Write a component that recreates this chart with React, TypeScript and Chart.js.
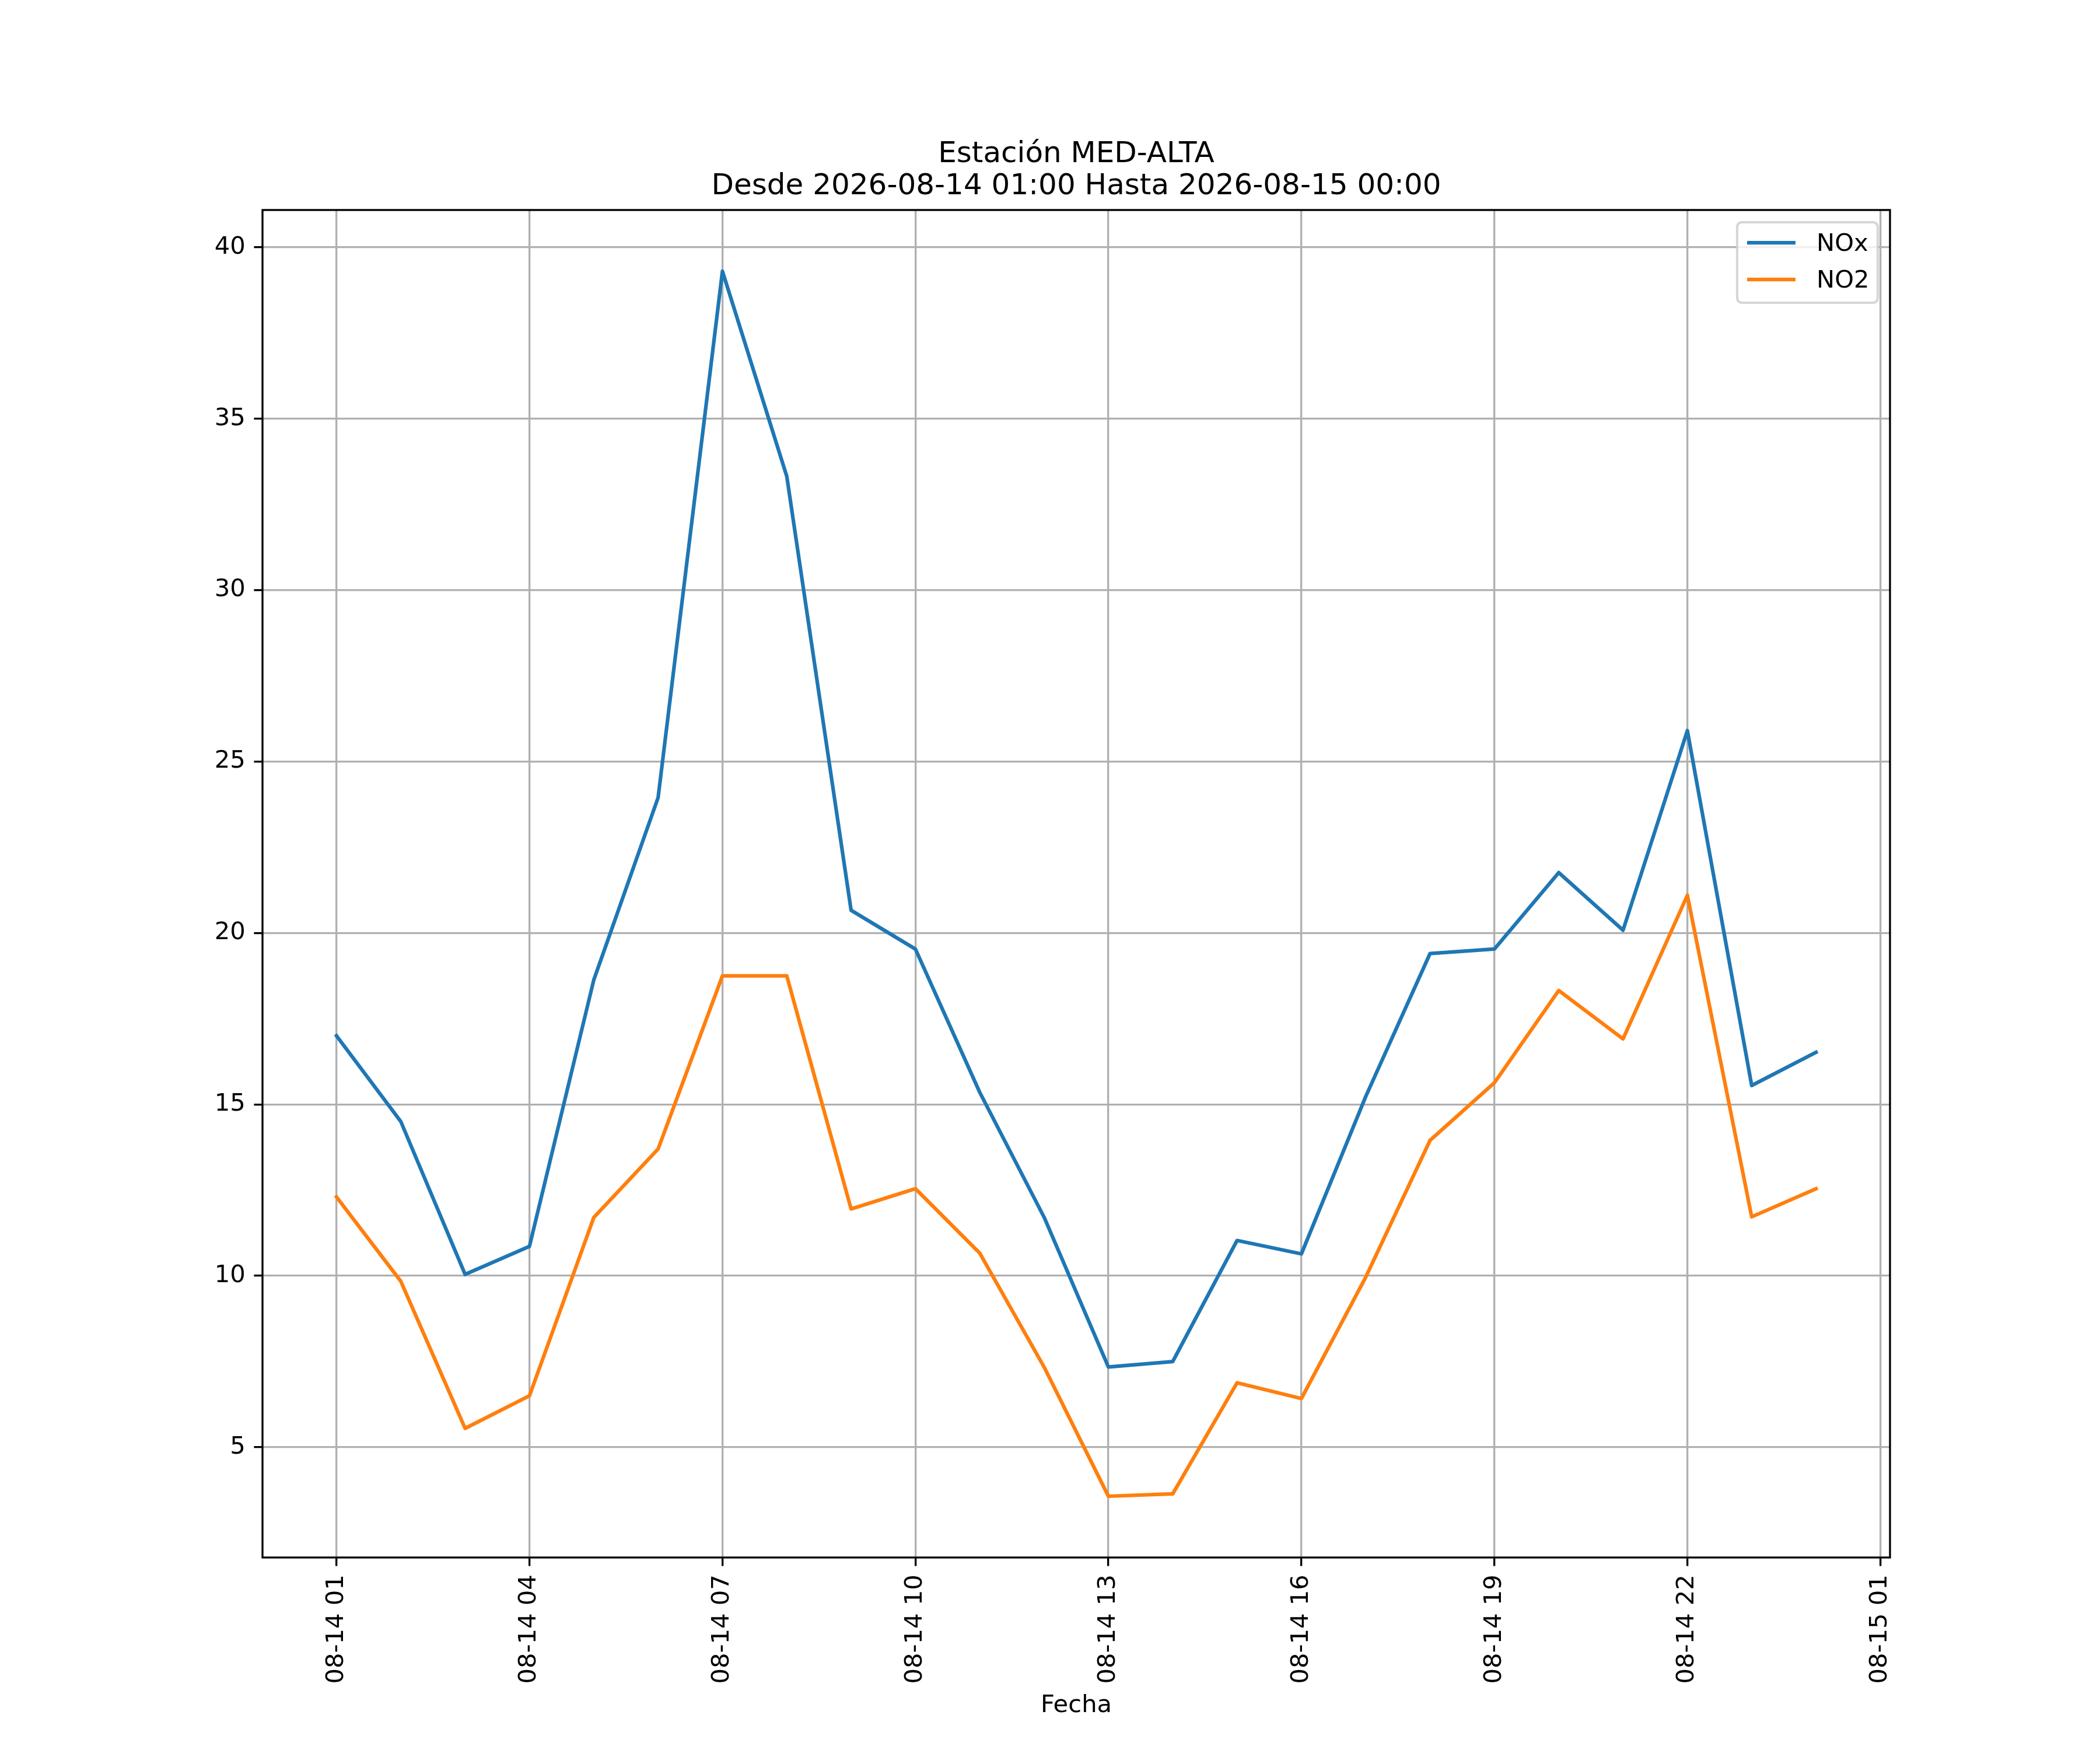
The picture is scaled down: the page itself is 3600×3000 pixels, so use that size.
import React, { useEffect, useRef } from 'react';
import { Chart, registerables } from 'chart.js';

Chart.register(...registerables);

// hourly readings, 2026-08-14 01:00 .. 2026-08-15 00:00
const times = [
  '2026-08-14 01:00', '2026-08-14 02:00', '2026-08-14 03:00', '2026-08-14 04:00',
  '2026-08-14 05:00', '2026-08-14 06:00', '2026-08-14 07:00', '2026-08-14 08:00',
  '2026-08-14 09:00', '2026-08-14 10:00', '2026-08-14 11:00', '2026-08-14 12:00',
  '2026-08-14 13:00', '2026-08-14 14:00', '2026-08-14 15:00', '2026-08-14 16:00',
  '2026-08-14 17:00', '2026-08-14 18:00', '2026-08-14 19:00', '2026-08-14 20:00',
  '2026-08-14 21:00', '2026-08-14 22:00', '2026-08-14 23:00', '2026-08-15 00:00',
];
const nox = [
  17.0, 14.5, 10.04, 10.86, 18.63, 23.95, 39.3, 33.32, 20.66, 19.53, 15.35, 11.71,
  7.34, 7.5, 11.03, 10.64, 15.23, 19.4, 19.53, 21.76, 20.08, 25.9, 15.55, 16.52,
];
const no2 = [
  12.3, 9.84, 5.55, 6.5, 11.7, 13.7, 18.75, 18.75, 11.95, 12.54, 10.66, 7.34,
  3.57, 3.64, 6.88, 6.42, 9.96, 13.95, 15.63, 18.32, 16.91, 21.1, 11.72, 12.54,
];
const seriesNames = ['NOx', 'NO2'];
const seriesColors = ['#1f77b4', '#ff7f0e'];

const xTickLabels = ['08-14 01', '08-14 04', '08-14 07', '08-14 10', '08-14 13', '08-14 16', '08-14 19', '08-14 22', '08-15 01'];
const xTickHours = [1, 4, 7, 10, 13, 16, 19, 22, 25];
const yTicks = [5, 10, 15, 20, 25, 30, 35, 40];

const titleLines = ['Estación MED-ALTA', 'Desde 2026-08-14 01:00 Hasta 2026-08-15 00:00'];
const xTitle = 'Fecha';

const FONT = 'DejaVu Sans';
const FS = 41.67; // 10pt @ 300dpi

// hours since 2026-08-14 00:00
const base = Date.parse('2026-08-14T00:00:00Z');
const hours = times.map((t) => (Date.parse(t.replace(' ', 'T') + ':00Z') - base) / 3600000);

// matplotlib-like 5% margins
const margin = (lo: number, hi: number) => [lo - (hi - lo) * 0.05, hi + (hi - lo) * 0.05];
const [xMin, xMax] = margin(Math.min(...hours), Math.max(...hours));
const allY = [...nox, ...no2];
const [yMin, yMax] = margin(Math.min(...allY), Math.max(...allY));

const framePlugin = {
  id: 'frame',
  afterDatasetsDraw(chart: any) {
    const { ctx, chartArea: a } = chart;
    ctx.save();
    ctx.strokeStyle = '#000';
    ctx.lineWidth = 3.33;
    ctx.lineJoin = 'miter';
    ctx.strokeRect(a.left, a.top, a.right - a.left, a.bottom - a.top);
    ctx.restore();
  },
};

const legendPlugin = {
  id: 'mplLegend',
  afterDraw(chart: any) {
    const { ctx, chartArea: a } = chart;
    const w = 241;
    const h = 138;
    const x = a.right - 21 - w;
    const y = a.top + 21;
    const r = 8;
    ctx.save();
    ctx.beginPath();
    ctx.roundRect(x, y, w, h, r);
    ctx.fillStyle = 'rgba(255,255,255,0.8)';
    ctx.fill();
    ctx.lineWidth = 4.17;
    ctx.strokeStyle = 'rgba(204,204,204,0.8)';
    ctx.stroke();
    chart.data.datasets.forEach((ds: any, i: number) => {
      const ly = y + 35 + i * 63;
      ctx.beginPath();
      ctx.moveTo(x + 17, ly);
      ctx.lineTo(x + 100, ly);
      ctx.strokeStyle = ds.borderColor;
      ctx.lineWidth = 6.25;
      ctx.lineCap = 'butt';
      ctx.stroke();
      ctx.fillStyle = '#000';
      ctx.font = `${FS}px "${FONT}"`;
      ctx.textAlign = 'left';
      ctx.textBaseline = 'alphabetic';
      ctx.fillText(ds.label, x + 136, ly + 14);
    });
    ctx.restore();
  },
};

function LineChart() {
  const canvasRef = useRef<HTMLCanvasElement | null>(null);
  const chartRef = useRef<Chart | null>(null);

  useEffect(() => {
    if (!canvasRef.current) return;
    const series = [nox, no2];
    chartRef.current = new Chart(canvasRef.current, {
      type: 'line',
      data: {
        datasets: series.map((vals, i) => ({
          label: seriesNames[i],
          data: vals.map((v, j) => ({ x: hours[j], y: v })),
          borderColor: seriesColors[i],
          backgroundColor: seriesColors[i],
          borderWidth: 6.25,
          pointRadius: 0,
          tension: 0,
          borderJoinStyle: 'round',
          borderCapStyle: 'square',
          fill: false,
        })),
      },
      options: {
        animation: false,
        responsive: false,
        devicePixelRatio: 1,
        layout: { autoPadding: false, padding: { left: 0, top: 0, right: 360, bottom: 0 } },
        plugins: {
          legend: { display: false },
          tooltip: { enabled: false },
          title: {
            display: true,
            fullSize: false,
            text: titleLines,
            color: '#000',
            font: { family: FONT, size: 50, weight: 'normal', lineHeight: 1.1 },
            padding: { top: 237.5, bottom: 12.5 },
          },
        },
        scales: {
          x: {
            type: 'linear',
            min: xMin,
            max: xMax,
            afterBuildTicks: (s: any) => {
              s.ticks = xTickHours.map((v) => ({ value: v }));
            },
            afterFit: (s: any) => {
              s.height = 330;
            },
            border: { display: false },
            grid: { color: '#b0b0b0', lineWidth: 3.33, tickColor: '#000', tickWidth: 3.33, tickLength: 14.6 },
            ticks: {
              autoSkip: false,
              minRotation: 90,
              maxRotation: 90,
              padding: 14.6,
              color: '#000',
              font: { family: FONT, size: FS },
              callback: (v: any) => {
                const k = xTickHours.indexOf(Number(v));
                return k >= 0 ? xTickLabels[k] : '';
              },
            },
            title: {
              display: true,
              text: xTitle,
              color: '#000',
              font: { family: FONT, size: FS, lineHeight: 1.2 },
              padding: { top: 0, bottom: 51 },
            },
          },
          y: {
            type: 'linear',
            min: yMin,
            max: yMax,
            afterBuildTicks: (s: any) => {
              s.ticks = yTicks.map((v) => ({ value: v }));
            },
            afterFit: (s: any) => {
              s.width = 450;
            },
            border: { display: false },
            grid: { color: '#b0b0b0', lineWidth: 3.33, tickColor: '#000', tickWidth: 3.33, tickLength: 14.6 },
            ticks: {
              padding: 14.6,
              color: '#000',
              font: { family: FONT, size: FS },
              callback: (v: any) => String(v),
            },
          },
        },
      },
      plugins: [framePlugin, legendPlugin],
    } as any);

    return () => {
      chartRef.current?.destroy();
      chartRef.current = null;
    };
  }, []);

  return <canvas ref={canvasRef} width={3600} height={3000} style={{ width: 3600, height: 3000 }} />;
}

export default function App() {
  return (
    <div style={{ position: 'absolute', left: 0, top: 0, width: 3600, height: 3000, background: '#fff' }}>
      <LineChart />
    </div>
  );
}
